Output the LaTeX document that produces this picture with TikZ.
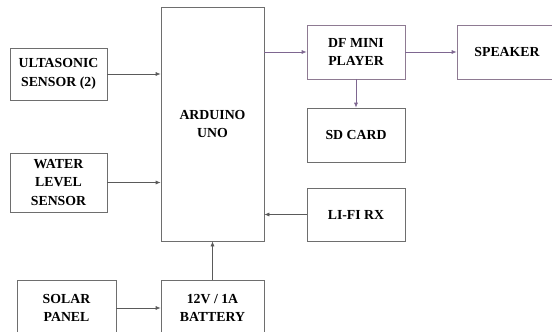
\documentclass[tikz,border=0pt]{standalone}
\usepackage{fontspec}
\setmainfont{Liberation Serif}
\usepackage{xcolor}
\usetikzlibrary{arrows.meta,positioning}
\definecolor{Edge}{HTML}{6E6E6E}
\definecolor{Wire}{HTML}{5A5A5A}
\definecolor{Plum}{HTML}{8E7A92}
\definecolor{PlumWire}{HTML}{7E6690}
\tikzset{
  block/.style={draw=Edge,line width=0.7pt,fill=white,align=center,font=\fontsize{13.8}{18.5}\selectfont\bfseries,inner sep=0pt},
  blockplum/.style={block,draw=Plum},
  wire/.style={-{Latex[length=5pt,width=4pt]},draw=Wire,line width=0.7pt},
  wireplum/.style={wire,draw=PlumWire}
}
\begin{document}
\begin{tikzpicture}[x=1pt,y=-1pt]
  \useasboundingbox[fill=white] (0,0) rectangle (552,332);
  \node[block,minimum width=97pt,minimum height=52pt] (ultra) at (58.5,74) {ULTASONIC\\SENSOR (2)};
  \node[block,minimum width=97pt,minimum height=59pt] (water) at (58.5,182.5) {WATER\\LEVEL\\SENSOR};
  \node[block,minimum width=103pt,minimum height=234pt] (ard) at (212.5,124) {ARDUINO\\UNO};
  \node[block,minimum width=99pt,minimum height=56pt] (solar) at (66.5,308) {SOLAR\\PANEL};
  \node[block,minimum width=103pt,minimum height=56pt] (batt) at (212.5,308) {12V / 1A\\BATTERY};
  \node[blockplum,minimum width=98pt,minimum height=54pt] (df) at (356,52) {DF MINI\\PLAYER};
  \node[blockplum,minimum width=100pt,minimum height=54pt] (spk) at (507,52) {SPEAKER};
  \node[block,minimum width=98pt,minimum height=54pt] (sd) at (356,135) {SD CARD};
  \node[block,minimum width=98pt,minimum height=53pt] (lifi) at (356,214.5) {LI-FI RX};
  % connections
  \draw[wire] (ultra.east) -- (ultra.east -| ard.west);
  \draw[wire] (water.east) -- (water.east -| ard.west);
  \draw[wireplum] (df.west -| ard.east) -- (df.west);
  \draw[wireplum] (df.east) -- (spk.west);
  \draw[wireplum] (df.south) -- (sd.north);
  \draw[wire] (lifi.west) -- (lifi.west -| ard.east);
  \draw[wire] (batt.north) -- (ard.south);
  \draw[wire] (solar.east) -- (solar.east -| batt.west);
\end{tikzpicture}
\end{document}
